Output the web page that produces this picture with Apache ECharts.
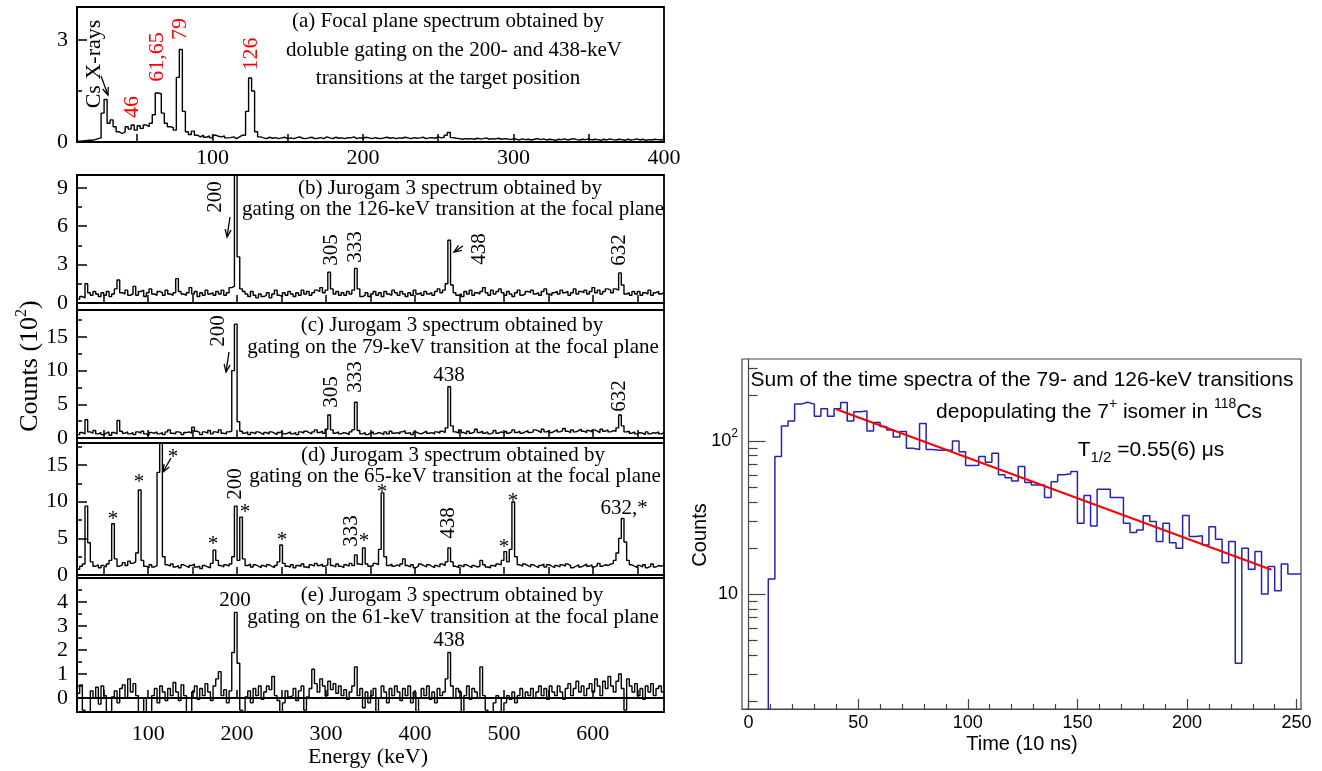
<!DOCTYPE html>
<html><head><meta charset="utf-8">
<script src="https://cdn.jsdelivr.net/npm/echarts@6/dist/echarts.min.js"></script>
<style>html,body{margin:0;padding:0;background:#fff}#c{width:1322px;height:771px}</style>
</head><body><div id="c"></div>
<script>
// ---------------- data ----------------
// (a) focal-plane spectrum, 2-keV bins starting at 10 keV (counts)
const focalStart = 10, focalBin = 2;
const focalCounts = [
0.02,0.03,0.04,0.05,0.05,0.07,0.1,0.12,0.85,1.25,
0.55,0.65,0.45,0.3,0.25,0.3,0.45,0.38,0.5,0.35,
0.48,0.4,0.5,0.45,0.55,0.8,1.44,1.42,0.85,0.55,
0.45,0.42,0.35,1.9,2.72,0.9,0.3,0.22,0.32,0.2,
0.15,0.2,0.14,0.18,0.12,0.2,0.17,0.15,0.18,0.12,
0.13,0.15,0.1,0.15,0.2,0.2,0.9,1.88,1.5,0.3,
0.15,0.12,0.1,0.14,0.11,0.13,0.1,0.12,0.14,0.1,
0.12,0.1,0.13,0.15,0.11,0.1,0.12,0.14,0.1,0.11,
0.13,0.1,0.15,0.12,0.1,0.14,0.11,0.12,0.1,0.13,
0.12,0.15,0.1,0.13,0.11,0.14,0.12,0.1,0.13,0.11,
0.1,0.12,0.14,0.11,0.13,0.1,0.12,0.11,0.14,0.12,
0.1,0.13,0.11,0.12,0.14,0.1,0.12,0.13,0.11,0.15,
0.12,0.14,0.2,0.28,0.13,0.11,0.1,0.08,0.1,0.09,
0.1,0.08,0.11,0.09,0.1,0.12,0.08,0.1,0.09,0.11,
0.08,0.1,0.09,0.07,0.1,0.08,0.06,0.09,0.07,0.08,
0.06,0.08,0.1,0.07,0.09,0.06,0.08,0.07,0.05,0.08,
0.07,0.09,0.06,0.08,0.1,0.07,0.06,0.08,0.07,0.09,
0.06,0.08,0.07,0.05,0.08,0.06,0.09,0.07,0.06,0.08,
0.07,0.05,0.08,0.06,0.07,0.09,0.06,0.08,0.05,0.07,
0.06,0.08,0.07,0.06,0.08
];
// (b)-(e) Jurogam 3 spectra, 3-keV bins starting at 20 keV (counts / 100)
const jgStart = 20, jgBin = 3;
const gate126 = [
0.3,0.5,0.4,1.5,0.8,0.6,0.9,0.7,0.5,0.8,
0.6,0.9,0.5,0.7,1.1,1.8,0.8,0.7,1.0,0.6,
0.7,1.3,0.6,0.9,1.0,0.5,0.8,1.1,0.7,0.6,
0.9,0.8,0.6,1.0,0.7,0.6,0.8,1.9,0.9,0.7,
0.6,0.8,1.2,0.7,0.9,0.5,0.8,0.6,1.0,0.7,
0.8,0.6,0.9,0.7,1.0,0.6,0.8,1.2,1.3,11,
3.6,1.1,0.9,0.7,0.5,0.9,0.6,0.4,0.7,0.5,
0.6,0.8,0.4,0.7,1.0,0.6,0.5,0.8,0.6,0.9,
0.7,0.5,0.8,0.6,1.0,0.7,0.9,0.6,0.8,1.0,
0.9,1.2,0.8,1.0,2.4,1.1,0.7,0.9,0.6,0.8,
0.6,0.9,0.7,1.0,2.7,1.1,0.5,0.6,0.8,0.5,
0.7,0.9,0.6,0.8,0.5,0.9,0.7,0.6,1.0,0.8,
0.6,0.9,0.7,0.5,0.8,0.6,1.0,0.7,0.8,0.6,
0.9,0.7,0.8,0.6,0.9,1.1,0.8,1.0,1.5,4.9,
1.4,0.8,0.6,0.7,0.5,0.9,0.7,1.0,0.6,0.8,
0.7,0.9,1.2,0.8,0.6,1.0,0.7,0.9,1.1,0.8,
0.6,0.9,0.7,0.5,0.8,1.0,0.6,0.7,0.9,0.8,
1.0,0.7,0.8,0.6,0.9,1.1,0.7,0.6,0.8,0.9,
0.7,1.0,0.8,0.9,0.6,0.8,1.1,0.7,0.9,0.8,
1.0,0.7,0.9,1.2,0.8,1.0,0.7,0.9,1.1,1.0,
0.8,1.1,1.0,2.35,1.4,0.7,0.8,0.6,0.9,0.7,
0.9,0.6,0.8,0.7,1.0,0.6,0.8,0.9,0.7,0.8
];
const gate79 = [
0.5,0.8,0.6,2.7,0.9,0.7,1.1,0.6,0.8,0.5,
0.7,0.9,0.4,0.8,0.6,2.6,1.0,0.7,0.9,0.6,
0.8,0.5,0.9,0.7,1.0,0.6,0.4,0.8,0.7,0.9,
0.6,0.8,0.5,0.9,1.2,0.7,0.6,0.9,0.8,0.5,
0.8,0.9,0.7,1.6,1.0,0.8,0.5,0.9,0.7,1.1,
0.6,0.9,0.8,1.2,0.7,0.6,0.9,1.0,10,16.9,
2.4,1.0,0.7,0.9,0.5,0.8,0.6,0.9,0.7,0.5,
0.8,0.6,0.9,0.7,0.5,0.8,1.0,0.6,0.7,0.9,
0.6,0.8,0.5,0.9,0.7,1.0,0.8,0.6,0.9,1.2,
0.8,1.0,0.7,1.3,3.4,1.2,0.7,0.9,0.6,0.8,
0.7,0.5,0.9,1.2,5.3,1.1,0.6,0.8,0.5,0.7,
0.9,0.6,0.8,0.7,0.5,0.9,0.6,1.0,0.7,0.8,
0.6,0.9,1.1,0.7,0.8,0.5,0.9,0.7,0.6,0.8,
1.0,0.7,0.8,0.6,0.9,0.7,1.0,0.8,1.5,7.6,
1.8,0.9,0.7,1.2,0.8,0.6,1.0,0.7,0.9,1.3,
0.8,1.0,0.7,0.9,0.6,0.8,1.1,0.7,0.9,0.8,
1.0,0.7,0.9,1.2,0.8,1.0,0.7,0.9,1.1,0.8,
0.9,1.2,1.0,0.8,1.3,0.9,1.1,0.8,1.0,1.2,
0.9,1.1,1.4,1.0,0.8,1.2,0.9,1.1,1.3,1.0,
0.8,1.1,0.9,1.2,1.0,0.8,1.3,1.0,1.2,0.9,
1.1,1.0,1.5,3.4,1.8,0.9,1.0,0.7,0.9,0.6,
0.8,0.7,0.5,0.9,0.6,0.8,0.7,0.9,0.6,0.8
];
const gate65 = [
0.8,1.2,1.5,9.4,4.4,1.8,1.2,1.4,1.0,1.3,
1.1,1.5,2.0,7.0,2.2,1.2,1.4,1.7,1.3,1.9,
1.6,1.8,3.0,11.6,2.0,1.2,1.0,1.4,1.1,1.3,
14,22,2.5,1.4,1.2,1.5,1.1,1.3,1.0,1.4,
1.2,1.0,1.3,1.5,1.1,1.2,0.9,1.3,1.1,1.0,
1.6,3.4,2.0,1.3,1.1,1.4,1.2,1.5,2.5,9.4,
2.0,7.9,2.2,1.3,1.5,1.1,1.4,1.2,1.0,1.3,
1.1,1.4,1.2,1.0,1.3,1.8,4.1,1.6,1.2,1.1,
1.4,1.0,1.3,1.2,1.5,1.1,1.0,1.4,1.2,1.6,
1.3,1.5,1.2,1.4,2.2,1.3,1.1,1.5,1.2,1.0,
1.4,1.2,1.6,1.3,2.75,1.5,1.4,3.7,1.5,1.2,
1.3,1.6,1.4,3.5,11.2,2.5,1.3,1.5,1.2,1.4,
1.2,1.5,2.2,1.3,1.1,1.4,1.0,1.2,1.5,1.3,
1.1,1.4,1.2,1.0,1.3,1.1,1.5,1.3,1.8,3.7,
1.8,1.2,1.0,1.3,1.1,1.4,1.2,1.0,1.3,1.1,
1.2,2.0,1.4,1.1,1.0,1.3,1.2,1.5,1.4,2.0,
3.2,1.8,3.5,9.95,2.5,1.4,1.2,1.5,1.3,1.1,
1.4,1.2,1.0,1.3,1.5,1.1,1.4,1.2,1.0,1.3,
1.1,1.4,1.2,1.5,1.3,1.0,1.2,1.4,1.1,1.3,
1.5,1.2,1.4,1.1,1.3,1.6,1.2,1.4,1.3,1.5,
1.6,2.0,3.0,5.0,7.7,4.5,2.0,1.4,1.2,1.0,
1.3,1.1,1.4,1.0,1.2,1.5,1.1,1.3,1.2,1.4
];
const gate61 = [
0.2,0.55,-0.5,-1,-1,0.3,0,0.45,-0.25,0.5,
0.1,-1,-1,0.05,0.3,-0.2,0.4,0.55,0,0.8,
0.25,0.6,0.1,-1,-1,0,-1,-1,0.1,0.4,
-0.2,0.5,0.25,-0.1,0.4,0.1,0.65,0.25,-0.1,0.55,
0.1,-1,-1,0.25,0.5,-0.05,0.4,0.1,0.6,0.25,
-0.1,0.5,0.8,1.1,0.1,0.35,-0.2,0.3,1.9,3.57,
1.45,-0.5,-1,0.05,0.3,-0.2,0.4,0.1,0.5,-0.05,
0.25,0.5,0.35,0.9,0.1,-0.1,-1,-0.2,0.3,0.05,
0.1,0.4,-0.1,0.3,0.5,-0.5,0.05,0.4,1.2,0.6,
0.25,0.8,0.5,0.1,0.7,0.35,0.6,0.2,0.5,0.1,
0.35,-0.05,0.25,0.5,1.3,0.1,0.4,-0.4,0.25,-0.2,
0.1,0.4,-1,0,0.5,0.25,-0.2,0.4,0.1,0.5,
0.25,-0.1,0.4,0.1,0.5,-0.2,0.25,-1,0,0.4,
0.1,0.5,-0.05,0.25,-0.2,0.4,0.1,0.25,0.8,1.9,
0.5,0,0.4,0.25,-1,0.1,0.5,-0.05,0.4,0.25,
0,1.3,0.1,-0.5,-1,-1,-0.2,0.1,0,-1,
-0.2,0.1,-0.05,0.25,-0.2,0.1,0.4,0,0.25,0.1,
0.4,0,0.25,0.5,0.1,0.4,-0.05,0.5,0.25,0.1,
0.5,0.25,-0.05,0.4,0.6,0.1,0.4,0.7,0.25,0.5,
0.1,0.4,0.6,0.25,0.8,0.5,0.1,0.7,0.4,0.9,
0.5,0.25,0.7,1.0,0.4,-0.5,0.8,0.5,0.25,0.6,
0.1,0.4,-0.05,0.5,0.25,0.6,0.1,0.4,0.5,0.25
];
// time spectrum, 3-unit bins starting at -3 (time in 10 ns)
const timeStart = -3, timeBin = 3;
const timeCounts = [
1,1,1,1,12.5,79,125,135,174,179,
174,145,162,145,162,178,135,155,157,116,
132,124,118,106,115,89.6,88,130,88,87,
87,87,100,85,69,69.4,79,72.6,83,60,
57.5,54.8,68,53.4,51.6,51.6,42.6,54,60,61,
63,29,44,27.8,48.3,48.3,42.6,42.6,29,25.2,
26.2,32.4,29.7,22,29,21.6,19.9,32.5,23.7,24,
20.9,27.5,22.8,16,22,3.52,19.9,14.5,18.9,10,
15.1,10.5,15.7,13.5,13.5
];
// exponential fit (T1/2 = 0.55 us) end points
const fitTime = [40, 238.5];
const fitCounts = [161, 14.4];
// tick label values
const xLabelsA = [100, 200, 300, 400];
const xLabelsJ = [100, 200, 300, 400, 500, 600];
const yLabelsA = [0, 3];
const yLabelsB = [0, 3, 6, 9];
const yLabelsC = [0, 5, 10, 15];
const yLabelsD = [0, 5, 10, 15];
const yLabelsE = [0, 1, 2, 3, 4];
const xLabelsT = [0, 50, 100, 150, 200, 250];
const yLabelsT = [10, 100];

// ---------------- helpers ----------------
const SERIF = '"Liberation Serif","Times New Roman",serif';
const SANS = '"Liberation Sans",Arial,sans-serif';
function hist(start, bin, vals) {
  const out = vals.map((v, i) => [start + i * bin, v]);
  out.push([start + vals.length * bin, vals[vals.length - 1]]);
  return out;
}
function range(a, b, s) { const r = []; for (let v = a; v <= b + 1e-9; v += s) r.push(+v.toFixed(6)); return r; }

const L = 77, W = 587;
const panels = [
  { top: 7, h: 135, xr: [10, 400], yr: [0, 3.97], yl: yLabelsA, ym: [1.5], xl: xLabelsA, xt: range(50, 400, 50), showX: true, xm: 5, data: hist(focalStart, focalBin, focalCounts) },
  { top: 175, h: 135, xr: [20, 680], yr: [-0.55, 10], yl: yLabelsB, ym: [1.5, 4.5, 7.5], xl: xLabelsJ, xt: range(50, 650, 50), showX: false, data: hist(jgStart, jgBin, gate126) },
  { top: 310, h: 133, xr: [20, 680], yr: [-0.75, 19], yl: yLabelsC, ym: [2.5, 7.5, 12.5, 17.5], xl: xLabelsJ, xt: range(50, 650, 50), showX: false, data: hist(jgStart, jgBin, gate79) },
  { top: 443, h: 135, xr: [20, 680], yr: [-0.4, 18], yl: yLabelsD, ym: [2.5, 7.5, 12.5, 17.5], xl: xLabelsJ, xt: range(50, 650, 50), showX: false, data: hist(jgStart, jgBin, gate65) },
  { top: 578, h: 134, xr: [20, 680], yr: [-0.58, 5], yl: yLabelsE, ym: [0.5, 1.5, 2.5, 3.5, 4.5], xl: xLabelsJ, xt: range(50, 650, 50), showX: true, xm: 11, data: hist(jgStart, jgBin, gate61) }
];

const grid = [], xAxis = [], yAxis = [], series = [];
const blk = { color: '#000', width: 1.5 };
panels.forEach((p, gi) => {
  grid.push({ left: L, top: p.top, width: W, height: p.h, show: true, borderColor: '#000', borderWidth: 1.8, containLabel: false, outerBoundsMode: 'none' });
  xAxis.push({ type: 'value', gridIndex: gi, min: p.xr[0], max: p.xr[1],
    axisLine: { show: true, lineStyle: { color: '#000', width: 1.8 } },
    axisTick: { show: true, inside: true, length: 8, customValues: p.xt, lineStyle: blk },
    axisLabel: { show: p.showX, customValues: p.xl, fontFamily: SERIF, fontSize: 22, color: '#000', margin: p.xm || 6 },
    splitLine: { show: false } });
  const yi = yAxis.length;
  yAxis.push({ type: 'value', gridIndex: gi, min: p.yr[0], max: p.yr[1],
    axisLine: { show: true, lineStyle: { color: '#000', width: 1.8 } },
    axisTick: { show: true, inside: true, length: 10, customValues: p.yl, lineStyle: blk },
    axisLabel: { customValues: p.yl, fontFamily: SERIF, fontSize: 22, color: '#000', margin: 9 },
    splitLine: { show: false } });
  yAxis.push({ type: 'value', gridIndex: gi, min: p.yr[0], max: p.yr[1], position: 'left',
    axisLine: { show: false }, axisLabel: { show: false },
    axisTick: { show: true, inside: true, length: 5, customValues: p.ym, lineStyle: blk },
    splitLine: { show: false } });
  series.push({ type: 'line', xAxisIndex: gi, yAxisIndex: yi, data: p.data, step: 'end', symbol: 'none',
    lineStyle: { color: '#000', width: 1.4 }, clip: true, animation: false });
});

// right panel
const gR = grid.length;
grid.push({ left: 742, top: 359, width: 559, height: 350, show: true, borderColor: '#444', borderWidth: 1.2, containLabel: false, outerBoundsMode: 'none' });
const xR = xAxis.length;
xAxis.push({ type: 'value', gridIndex: gR, min: -3, max: 252,
  axisLine: { show: true, lineStyle: { color: '#444', width: 1.2 } },
  axisTick: { show: true, inside: true, length: 10, customValues: xLabelsT, lineStyle: { color: '#444', width: 1.2 } },
  axisLabel: { customValues: xLabelsT, fontFamily: SANS, fontSize: 18, color: '#000', margin: 5 },
  splitLine: { show: false } });
xAxis.push({ type: 'value', gridIndex: gR, min: -3, max: 252, position: 'bottom',
  axisLine: { show: false }, axisLabel: { show: false },
  axisTick: { show: true, inside: true, length: 5, customValues: range(10, 240, 10).filter(v => v % 50 !== 0), lineStyle: { color: '#444', width: 1.2 } },
  splitLine: { show: false } });
const yR = yAxis.length;
yAxis.push({ type: 'log', gridIndex: gR, min: 1.77, max: 343, logBase: 10,
  axisLine: { show: true, lineStyle: { color: '#444', width: 1.2 } },
  axisTick: { show: true, inside: true, length: 17, customValues: yLabelsT, lineStyle: { color: '#444', width: 1.2 } },
  axisLabel: { customValues: yLabelsT, fontFamily: SANS, fontSize: 18, color: '#000', margin: 4, lineHeight: 26,
    formatter: v => (Math.round(v) === 100 ? '10{s|2}' : '10'),
    rich: { s: { fontFamily: SANS, fontSize: 12, lineHeight: 12, verticalAlign: 'top', color: '#000' } } },
  splitLine: { show: false } });
yAxis.push({ type: 'log', gridIndex: gR, min: 1.77, max: 343, logBase: 10, position: 'left',
  axisLine: { show: false }, axisLabel: { show: false },
  axisTick: { show: true, inside: true, length: 9, customValues: [2,3,4,5,6,7,8,9,20,30,40,50,60,70,80,90,200,300], lineStyle: { color: '#444', width: 1.2 } },
  splitLine: { show: false } });
series.push({ type: 'line', xAxisIndex: xR, yAxisIndex: yR, data: hist(timeStart, timeBin, timeCounts), step: 'end', symbol: 'none',
  lineStyle: { color: '#2424b0', width: 1.5 }, clip: true, animation: false, z: 2 });
series.push({ type: 'line', xAxisIndex: xR, yAxisIndex: yR, data: fitTime.map((t, i) => [t, fitCounts[i]]), symbol: 'none',
  lineStyle: { color: '#ff0000', width: 2 }, clip: true, animation: false, z: 3 });

// ---------------- annotations ----------------
const g = [];
function txt(x, y, text, o) {
  o = o || {};
  g.push({ type: 'text', x, y, rotation: o.rot ? Math.PI / 2 : 0, z: 100,
    style: { text, fill: o.color || '#000', fontSize: o.size || 21, fontFamily: o.font || SERIF, align: 'center', verticalAlign: 'middle', rich: o.rich } });
}
function arrow(x1, y1, x2, y2) {
  const a = Math.atan2(y2 - y1, x2 - x1), h = 8, s = 0.38;
  g.push({ type: 'line', z: 100, shape: { x1, y1, x2, y2 }, style: { stroke: '#000', lineWidth: 1.3 } });
  g.push({ type: 'polyline', z: 100, shape: { points: [[x2 - h * Math.cos(a - s), y2 - h * Math.sin(a - s)], [x2, y2], [x2 - h * Math.cos(a + s), y2 - h * Math.sin(a + s)]] }, style: { stroke: '#000', fill: null, lineWidth: 1.3 } });
}
const RED = '#ff0000';
// (a)
txt(448, 21, '(a) Focal plane spectrum obtained by');
txt(454, 50, 'doluble gating on the 200- and 438-keV');
txt(448, 78, 'transitions at the target position');
txt(94, 64, 'Cs X-rays', { rot: 1, size: 22 });
arrow(101, 76, 108, 95);
txt(132, 107, '46', { rot: 1, color: RED, size: 22 });
txt(157, 57, '61,65', { rot: 1, color: RED, size: 22 });
txt(180, 29, '79', { rot: 1, color: RED, size: 22 });
txt(251, 54, '126', { rot: 1, color: RED, size: 22 });
// (b)
txt(450, 188, '(b) Jurogam 3 spectrum obtained by');
txt(453, 209, 'gating on the 126-keV transition at the focal plane');
txt(215, 197, '200', { rot: 1 });
arrow(230, 217, 227, 237);
txt(331, 250, '305', { rot: 1 });
txt(355, 247, '333', { rot: 1 });
txt(479, 249, '438', { rot: 1 });
arrow(463, 246, 454, 252);
txt(619, 250, '632', { rot: 1 });
// (c)
txt(452, 325, '(c) Jurogam 3 spectrum obtained by');
txt(453, 347, 'gating on the 79-keV transition at the focal plane');
txt(218, 331, '200', { rot: 1 });
arrow(229, 352, 226, 372);
txt(331, 392, '305', { rot: 1 });
txt(355, 377, '333', { rot: 1 });
txt(449, 375, '438');
txt(619, 396, '632', { rot: 1 });
// (d)
txt(453, 455, '(d) Jurogam 3 spectrum obtained by');
txt(455, 476, 'gating on the 65-keV transition at the focal plane');
[[113, 515], [139, 478], [173, 453], [213, 540], [245, 508], [282, 536], [364, 537], [382, 488], [504, 543], [513, 497]]
  .forEach(p => txt(p[0], p[1] + 4, '*', { size: 21 }));
arrow(171, 458, 163, 472);
txt(235, 484, '200', { rot: 1 });
txt(351, 531, '333', { rot: 1 });
txt(448, 523, '438', { rot: 1 });
txt(624, 508, '632,*');
// (e)
txt(452, 595, '(e) Jurogam 3 spectrum obtained by');
txt(453, 617, 'gating on the 61-keV transition at the focal plane');
txt(235, 600, '200');
txt(449, 640, '438');
// axis titles
txt(30, 366, '{a|Counts (10}{s|2}{a|)}', { rot: 1, rich: {
  a: { fontSize: 26, fontFamily: SERIF, fill: '#000', lineHeight: 32 },
  s: { fontSize: 16, fontFamily: SERIF, fill: '#000', lineHeight: 16, verticalAlign: 'top' } } });
txt(368, 757, 'Energy (keV)', { size: 22 });
// right panel texts
txt(1022, 380, 'Sum of the time spectra of the 79- and 126-keV transitions', { font: SANS, size: 21 });
txt(1099, 412, '{a|depopulating the 7}{p|+}{a| isomer in }{p|118}{a|Cs}', { font: SANS, rich: {
  a: { fontSize: 21, fontFamily: SANS, fill: '#000', lineHeight: 30 },
  p: { fontSize: 14, fontFamily: SANS, fill: '#000', lineHeight: 14, verticalAlign: 'top' } } });
txt(1151, 450, '{a|T}{b|1/2}{a| =0.55(6) μs}', { font: SANS, rich: {
  a: { fontSize: 21, fontFamily: SANS, fill: '#000', lineHeight: 30 },
  b: { fontSize: 15, fontFamily: SANS, fill: '#000', lineHeight: 15, verticalAlign: 'bottom' } } });
txt(700, 535, 'Counts', { rot: 1, font: SANS, size: 20 });
txt(1022, 744, 'Time (10 ns)', { font: SANS, size: 20 });

const chart = echarts.init(document.getElementById('c'), null, { renderer: 'canvas' });
chart.setOption({ animation: false, backgroundColor: '#fff', grid, xAxis, yAxis, series, graphic: g });
</script></body></html>
